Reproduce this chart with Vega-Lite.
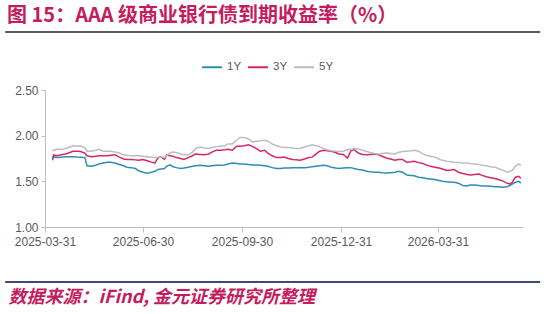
{
  "$schema": "https://vega.github.io/schema/vega-lite/v6.json",
  "autosize": {"type": "none"},
  "width": 478,
  "height": 137,
  "padding": {"left": 45, "top": 90, "right": 21, "bottom": 87},
  "background": "white",
  "config": {"view": {"stroke": null}},
  "title": {
    "text": "图 15：AAA 级商业银行债到期收益率（%）",
    "anchor": "start",
    "frame": "group",
    "font": "Noto Sans CJK SC",
    "fontSize": 20,
    "fontWeight": "bold",
    "color": "#C41C5E",
    "dx": -38,
    "dy": 9,
    "baseline": "middle"
  },
  "layer": [
    {
      "data": {"values": [{}]},
      "mark": {"type": "rule", "color": "#5A5A5A", "strokeWidth": 2},
      "encoding": {
        "x": {"datum": {"year": 2025, "month": 2, "date": 22, "utc": true}, "type": "temporal"},
        "x2": {"datum": {"year": 2026, "month": 7, "date": 4, "utc": true}},
        "y": {"datum": 3.135, "type": "quantitative"}
      }
    },
    {
      "data": {"values": [{}]},
      "mark": {"type": "rule", "color": "#3F4A72", "strokeWidth": 2},
      "encoding": {
        "x": {"datum": {"year": 2025, "month": 2, "date": 22, "utc": true}, "type": "temporal"},
        "x2": {"datum": {"year": 2026, "month": 7, "date": 4, "utc": true}},
        "y": {"datum": 0.398, "type": "quantitative"}
      }
    },
    {
      "data": {
        "values": [
          {"date": "2025-04-07", "1Y": 1.73, "3Y": 1.75, "5Y": 1.83},
          {"date": "2025-04-08", "1Y": 1.77, "3Y": 1.79, "5Y": 1.84},
          {"date": "2025-04-11", "1Y": 1.76, "3Y": 1.78, "5Y": 1.85},
          {"date": "2025-04-15", "1Y": 1.765, "3Y": 1.79, "5Y": 1.85},
          {"date": "2025-04-19", "1Y": 1.77, "3Y": 1.8, "5Y": 1.86},
          {"date": "2025-04-22", "1Y": 1.77, "3Y": 1.81, "5Y": 1.87},
          {"date": "2025-04-26", "1Y": 1.77, "3Y": 1.83, "5Y": 1.89},
          {"date": "2025-04-30", "1Y": 1.766, "3Y": 1.83, "5Y": 1.885},
          {"date": "2025-05-03", "1Y": 1.765, "3Y": 1.826, "5Y": 1.886},
          {"date": "2025-05-07", "1Y": 1.76, "3Y": 1.81, "5Y": 1.87},
          {"date": "2025-05-09", "1Y": 1.67, "3Y": 1.78, "5Y": 1.83},
          {"date": "2025-05-13", "1Y": 1.666, "3Y": 1.77, "5Y": 1.83},
          {"date": "2025-05-17", "1Y": 1.675, "3Y": 1.775, "5Y": 1.84},
          {"date": "2025-05-20", "1Y": 1.69, "3Y": 1.78, "5Y": 1.85},
          {"date": "2025-05-24", "1Y": 1.7, "3Y": 1.78, "5Y": 1.83},
          {"date": "2025-05-28", "1Y": 1.71, "3Y": 1.78, "5Y": 1.83},
          {"date": "2025-05-31", "1Y": 1.71, "3Y": 1.785, "5Y": 1.83},
          {"date": "2025-06-04", "1Y": 1.7, "3Y": 1.79, "5Y": 1.82},
          {"date": "2025-06-08", "1Y": 1.685, "3Y": 1.765, "5Y": 1.81},
          {"date": "2025-06-12", "1Y": 1.67, "3Y": 1.745, "5Y": 1.79},
          {"date": "2025-06-15", "1Y": 1.655, "3Y": 1.74, "5Y": 1.785},
          {"date": "2025-06-19", "1Y": 1.65, "3Y": 1.74, "5Y": 1.78},
          {"date": "2025-06-23", "1Y": 1.64, "3Y": 1.735, "5Y": 1.78},
          {"date": "2025-06-26", "1Y": 1.615, "3Y": 1.73, "5Y": 1.78},
          {"date": "2025-06-30", "1Y": 1.6, "3Y": 1.74, "5Y": 1.775},
          {"date": "2025-07-04", "1Y": 1.59, "3Y": 1.725, "5Y": 1.77},
          {"date": "2025-07-08", "1Y": 1.6, "3Y": 1.71, "5Y": 1.765},
          {"date": "2025-07-11", "1Y": 1.61, "3Y": 1.7, "5Y": 1.76},
          {"date": "2025-07-14", "1Y": 1.63, "3Y": 1.76, "5Y": 1.765},
          {"date": "2025-07-17", "1Y": 1.635, "3Y": 1.765, "5Y": 1.77},
          {"date": "2025-07-20", "1Y": 1.64, "3Y": 1.74, "5Y": 1.76},
          {"date": "2025-07-22", "1Y": 1.665, "3Y": 1.79, "5Y": 1.78},
          {"date": "2025-07-25", "1Y": 1.68, "3Y": 1.78, "5Y": 1.81},
          {"date": "2025-07-28", "1Y": 1.66, "3Y": 1.775, "5Y": 1.82},
          {"date": "2025-07-31", "1Y": 1.65, "3Y": 1.76, "5Y": 1.815},
          {"date": "2025-08-04", "1Y": 1.64, "3Y": 1.75, "5Y": 1.8},
          {"date": "2025-08-07", "1Y": 1.645, "3Y": 1.74, "5Y": 1.79},
          {"date": "2025-08-11", "1Y": 1.655, "3Y": 1.76, "5Y": 1.79},
          {"date": "2025-08-15", "1Y": 1.665, "3Y": 1.78, "5Y": 1.82},
          {"date": "2025-08-18", "1Y": 1.67, "3Y": 1.8, "5Y": 1.86},
          {"date": "2025-08-22", "1Y": 1.675, "3Y": 1.795, "5Y": 1.875},
          {"date": "2025-08-26", "1Y": 1.67, "3Y": 1.79, "5Y": 1.865},
          {"date": "2025-08-30", "1Y": 1.665, "3Y": 1.8, "5Y": 1.86},
          {"date": "2025-09-02", "1Y": 1.67, "3Y": 1.82, "5Y": 1.87},
          {"date": "2025-09-06", "1Y": 1.675, "3Y": 1.84, "5Y": 1.88},
          {"date": "2025-09-10", "1Y": 1.676, "3Y": 1.84, "5Y": 1.885},
          {"date": "2025-09-14", "1Y": 1.68, "3Y": 1.845, "5Y": 1.89},
          {"date": "2025-09-17", "1Y": 1.69, "3Y": 1.85, "5Y": 1.91},
          {"date": "2025-09-21", "1Y": 1.7, "3Y": 1.84, "5Y": 1.91},
          {"date": "2025-09-25", "1Y": 1.695, "3Y": 1.885, "5Y": 1.95},
          {"date": "2025-09-28", "1Y": 1.69, "3Y": 1.885, "5Y": 1.98},
          {"date": "2025-10-02", "1Y": 1.69, "3Y": 1.89, "5Y": 1.98},
          {"date": "2025-10-06", "1Y": 1.685, "3Y": 1.9, "5Y": 1.965},
          {"date": "2025-10-10", "1Y": 1.68, "3Y": 1.88, "5Y": 1.93},
          {"date": "2025-10-13", "1Y": 1.678, "3Y": 1.86, "5Y": 1.94},
          {"date": "2025-10-17", "1Y": 1.676, "3Y": 1.83, "5Y": 1.945},
          {"date": "2025-10-21", "1Y": 1.67, "3Y": 1.84, "5Y": 1.95},
          {"date": "2025-10-24", "1Y": 1.666, "3Y": 1.81, "5Y": 1.94},
          {"date": "2025-10-28", "1Y": 1.65, "3Y": 1.78, "5Y": 1.91},
          {"date": "2025-11-01", "1Y": 1.64, "3Y": 1.76, "5Y": 1.89},
          {"date": "2025-11-05", "1Y": 1.64, "3Y": 1.76, "5Y": 1.875},
          {"date": "2025-11-08", "1Y": 1.645, "3Y": 1.765, "5Y": 1.87},
          {"date": "2025-11-12", "1Y": 1.645, "3Y": 1.75, "5Y": 1.87},
          {"date": "2025-11-16", "1Y": 1.65, "3Y": 1.74, "5Y": 1.865},
          {"date": "2025-11-19", "1Y": 1.65, "3Y": 1.735, "5Y": 1.86},
          {"date": "2025-11-23", "1Y": 1.65, "3Y": 1.73, "5Y": 1.86},
          {"date": "2025-11-27", "1Y": 1.65, "3Y": 1.745, "5Y": 1.875},
          {"date": "2025-12-01", "1Y": 1.655, "3Y": 1.76, "5Y": 1.89},
          {"date": "2025-12-04", "1Y": 1.66, "3Y": 1.765, "5Y": 1.9},
          {"date": "2025-12-08", "1Y": 1.666, "3Y": 1.8, "5Y": 1.89},
          {"date": "2025-12-11", "1Y": 1.67, "3Y": 1.83, "5Y": 1.88},
          {"date": "2025-12-15", "1Y": 1.676, "3Y": 1.84, "5Y": 1.855},
          {"date": "2025-12-18", "1Y": 1.67, "3Y": 1.835, "5Y": 1.845},
          {"date": "2025-12-22", "1Y": 1.655, "3Y": 1.83, "5Y": 1.835},
          {"date": "2025-12-26", "1Y": 1.645, "3Y": 1.815, "5Y": 1.83},
          {"date": "2025-12-29", "1Y": 1.64, "3Y": 1.8, "5Y": 1.826},
          {"date": "2026-01-02", "1Y": 1.645, "3Y": 1.795, "5Y": 1.83},
          {"date": "2026-01-06", "1Y": 1.65, "3Y": 1.755, "5Y": 1.845},
          {"date": "2026-01-09", "1Y": 1.65, "3Y": 1.83, "5Y": 1.85},
          {"date": "2026-01-12", "1Y": 1.64, "3Y": 1.85, "5Y": 1.86},
          {"date": "2026-01-16", "1Y": 1.63, "3Y": 1.81, "5Y": 1.855},
          {"date": "2026-01-20", "1Y": 1.625, "3Y": 1.795, "5Y": 1.84},
          {"date": "2026-01-24", "1Y": 1.61, "3Y": 1.79, "5Y": 1.826},
          {"date": "2026-01-27", "1Y": 1.605, "3Y": 1.795, "5Y": 1.815},
          {"date": "2026-01-31", "1Y": 1.6, "3Y": 1.8, "5Y": 1.805},
          {"date": "2026-02-04", "1Y": 1.6, "3Y": 1.79, "5Y": 1.8},
          {"date": "2026-02-07", "1Y": 1.595, "3Y": 1.775, "5Y": 1.805},
          {"date": "2026-02-11", "1Y": 1.59, "3Y": 1.755, "5Y": 1.81},
          {"date": "2026-02-15", "1Y": 1.595, "3Y": 1.745, "5Y": 1.805},
          {"date": "2026-02-19", "1Y": 1.6, "3Y": 1.73, "5Y": 1.8},
          {"date": "2026-02-22", "1Y": 1.61, "3Y": 1.74, "5Y": 1.815},
          {"date": "2026-02-26", "1Y": 1.6, "3Y": 1.74, "5Y": 1.826},
          {"date": "2026-03-02", "1Y": 1.57, "3Y": 1.71, "5Y": 1.83},
          {"date": "2026-03-06", "1Y": 1.565, "3Y": 1.715, "5Y": 1.835},
          {"date": "2026-03-09", "1Y": 1.56, "3Y": 1.72, "5Y": 1.84},
          {"date": "2026-03-13", "1Y": 1.545, "3Y": 1.705, "5Y": 1.83},
          {"date": "2026-03-17", "1Y": 1.54, "3Y": 1.695, "5Y": 1.8},
          {"date": "2026-03-20", "1Y": 1.53, "3Y": 1.68, "5Y": 1.785},
          {"date": "2026-03-24", "1Y": 1.525, "3Y": 1.665, "5Y": 1.775},
          {"date": "2026-03-28", "1Y": 1.52, "3Y": 1.655, "5Y": 1.765},
          {"date": "2026-04-01", "1Y": 1.51, "3Y": 1.645, "5Y": 1.745},
          {"date": "2026-04-04", "1Y": 1.5, "3Y": 1.635, "5Y": 1.73},
          {"date": "2026-04-08", "1Y": 1.495, "3Y": 1.62, "5Y": 1.72},
          {"date": "2026-04-12", "1Y": 1.49, "3Y": 1.625, "5Y": 1.715},
          {"date": "2026-04-15", "1Y": 1.49, "3Y": 1.63, "5Y": 1.71},
          {"date": "2026-04-19", "1Y": 1.48, "3Y": 1.6, "5Y": 1.705},
          {"date": "2026-04-23", "1Y": 1.455, "3Y": 1.585, "5Y": 1.7},
          {"date": "2026-04-27", "1Y": 1.45, "3Y": 1.575, "5Y": 1.7},
          {"date": "2026-04-30", "1Y": 1.46, "3Y": 1.57, "5Y": 1.695},
          {"date": "2026-05-04", "1Y": 1.46, "3Y": 1.575, "5Y": 1.69},
          {"date": "2026-05-08", "1Y": 1.455, "3Y": 1.58, "5Y": 1.685},
          {"date": "2026-05-11", "1Y": 1.45, "3Y": 1.565, "5Y": 1.675},
          {"date": "2026-05-15", "1Y": 1.45, "3Y": 1.55, "5Y": 1.67},
          {"date": "2026-05-19", "1Y": 1.445, "3Y": 1.54, "5Y": 1.66},
          {"date": "2026-05-23", "1Y": 1.44, "3Y": 1.53, "5Y": 1.655},
          {"date": "2026-05-26", "1Y": 1.44, "3Y": 1.52, "5Y": 1.64},
          {"date": "2026-05-30", "1Y": 1.435, "3Y": 1.505, "5Y": 1.625},
          {"date": "2026-06-03", "1Y": 1.44, "3Y": 1.48, "5Y": 1.6},
          {"date": "2026-06-06", "1Y": 1.455, "3Y": 1.47, "5Y": 1.61},
          {"date": "2026-06-08", "1Y": 1.47, "3Y": 1.49, "5Y": 1.62},
          {"date": "2026-06-11", "1Y": 1.49, "3Y": 1.545, "5Y": 1.665},
          {"date": "2026-06-14", "1Y": 1.5, "3Y": 1.555, "5Y": 1.69},
          {"date": "2026-06-16", "1Y": 1.48, "3Y": 1.53, "5Y": 1.675}
        ],
        "format": {"parse": {"date": "utc:'%Y-%m-%d'"}}
      },
      "transform": [{"fold": ["1Y", "3Y", "5Y"], "as": ["series", "value"]}],
      "mark": {"type": "line", "strokeWidth": 1.5, "interpolate": "linear"},
      "encoding": {
        "x": {
          "field": "date",
          "type": "temporal",
          "scale": {
            "type": "utc",
            "domain": [
              {"year": 2025, "month": 3, "date": 31, "utc": true},
              {"year": 2026, "month": 6, "date": 18, "utc": true}
            ]
          },
          "axis": {
            "values": [
              {"year": 2025, "month": 3, "date": 31, "utc": true},
              {"year": 2025, "month": 6, "date": 30, "utc": true},
              {"year": 2025, "month": 9, "date": 30, "utc": true},
              {"year": 2025, "month": 12, "date": 31, "utc": true},
              {"year": 2026, "month": 3, "date": 31, "utc": true}
            ],
            "labelExpr": "utcFormat(datum.value, '%Y-%m-%d')",
            "labelFlush": false,
            "grid": false,
            "domainColor": "#BFBFBF",
            "tickColor": "#BFBFBF",
            "tickSize": 5,
            "labelPadding": 4,
            "labelFont": "Liberation Sans",
            "labelFontSize": 12,
            "labelColor": "#595959",
            "labelOverlap": false,
            "title": "数据来源：iFind, 金元证券研究所整理",
            "titleFont": "Noto Sans CJK SC",
            "titleFontSize": 18,
            "titleFontStyle": "italic",
            "titleFontWeight": "bold",
            "titleColor": "#C41C5E",
            "titleAlign": "left",
            "titleBaseline": "middle",
            "titleAngle": 0,
            "titleX": -37,
            "titleY": 70
          }
        },
        "y": {
          "field": "value",
          "type": "quantitative",
          "scale": {"domain": [1, 2.5], "zero": false, "nice": false},
          "axis": {
            "values": [1, 1.5, 2, 2.5],
            "format": ".2f",
            "grid": false,
            "domainColor": "#BFBFBF",
            "tickColor": "#BFBFBF",
            "tickSize": 4,
            "labelPadding": 3,
            "labelFont": "Liberation Sans",
            "labelFontSize": 12,
            "labelColor": "#595959",
            "title": null
          }
        },
        "color": {
          "field": "series",
          "type": "nominal",
          "scale": {"domain": ["1Y", "3Y", "5Y"], "range": ["#2E8DB5", "#D6266B", "#BDBDBD"]},
          "legend": {
            "title": null,
            "orient": "none",
            "direction": "horizontal",
            "legendX": 156,
            "legendY": -34,
            "symbolType": "stroke",
            "symbolSize": 400,
            "symbolStrokeWidth": 2,
            "labelFont": "Liberation Sans",
            "labelFontSize": 11.5,
            "labelColor": "#595959",
            "labelOffset": 4,
            "columnPadding": 2
          }
        }
      }
    }
  ]
}
